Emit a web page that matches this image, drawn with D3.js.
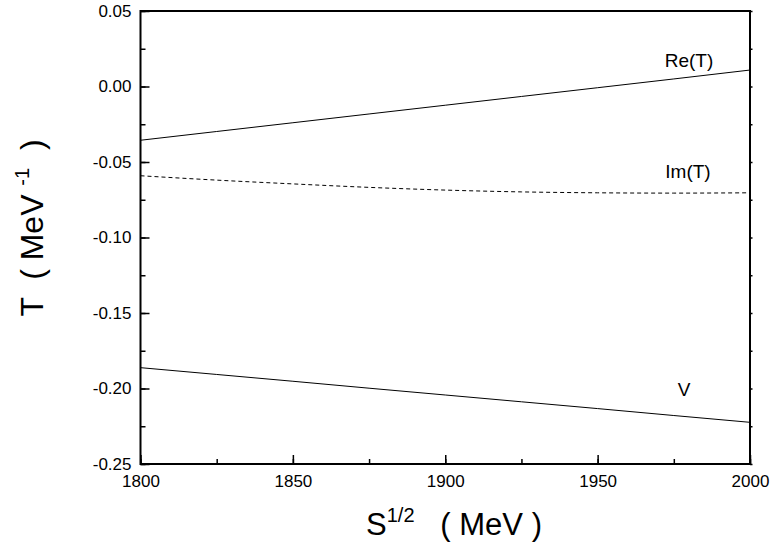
<!DOCTYPE html>
<html>
<head>
<meta charset="utf-8">
<script src="https://cdn.jsdelivr.net/npm/d3@7"></script>
<style>
  body { margin: 0; background: #fff; }
  text { font-family: "Liberation Sans", Arial, sans-serif; fill: #000; }
</style>
</head>
<body>
<div id="chart"></div>
<script>
// values
var sqrtS = [1800, 1825, 1850, 1875, 1900, 1925, 1950, 1975, 2000];
var reT = [-0.0356, -0.0298, -0.0240, -0.0182, -0.0124, -0.0066, -0.0008, 0.0050, 0.0109];
var imT = [-0.0591, -0.0620, -0.0645, -0.0668, -0.0686, -0.0698, -0.0704, -0.0706, -0.0704];
var vT = [-0.1862, -0.1907, -0.1952, -0.1998, -0.2043, -0.2088, -0.2133, -0.2179, -0.2224];
var xTicks = [1800, 1850, 1900, 1950, 2000];
var yTicks = [0.05, 0.00, -0.05, -0.10, -0.15, -0.20, -0.25];

var W = 770, H = 544;
var m = {left: 140.5, right: 20, top: 11, bottom: 80};

var svg = d3.select('#chart').append('svg')
  .attr('width', W)
  .attr('height', H);

var x = d3.scaleLinear().domain([1800, 2000]).range([m.left, W - m.right]);
var y = d3.scaleLinear().domain([-0.25, 0.05]).range([H - m.bottom, m.top]);

var line = d3.line()
  .x(function(d, i){ return x(sqrtS[i]); })
  .y(function(d){ return y(d); });

var lineCurve = d3.line()
  .x(function(d, i){ return x(sqrtS[i]); })
  .y(function(d){ return y(d); })
  .curve(d3.curveMonotoneX);

// series
svg.append('path').datum(reT)
  .attr('d', line)
  .attr('fill', 'none').attr('stroke', '#000').attr('stroke-width', 1);

svg.append('path').datum(imT)
  .attr('d', lineCurve)
  .attr('fill', 'none').attr('stroke', '#000').attr('stroke-width', 1)
  .attr('stroke-dasharray', '4,3');

svg.append('path').datum(vT)
  .attr('d', line)
  .attr('fill', 'none').attr('stroke', '#000').attr('stroke-width', 1);

// axes: major + minor ticks pointing inward
var xMinor = d3.range(1800, 2001, 25);
var yMinor = d3.range(-0.25, 0.0501, 0.025);
var fmtY = function(d){ return d3.format('.2f')(d).replace('\u2212', '-'); };

var xAxis = svg.append('g').attr('transform', 'translate(0,' + y(-0.25) + ')');
xAxis.call(d3.axisBottom(x).tickValues(xMinor).tickSize(-5).tickFormat(''));
xAxis.call(function(g){ g.select('.domain').remove(); });
var xMaj = svg.append('g').attr('transform', 'translate(0,' + y(-0.25) + ')')
  .call(d3.axisBottom(x).tickValues(xTicks).tickSize(-9).tickPadding(11).tickFormat(d3.format('d')));
xMaj.select('.domain').remove();
xMaj.selectAll('text').attr('font-size', 17).attr('font-family', '"Liberation Sans", Arial, sans-serif');

var yAxis = svg.append('g').attr('transform', 'translate(' + x(1800) + ',0)');
yAxis.call(d3.axisLeft(y).tickValues(yMinor).tickSize(-5).tickFormat(''));
yAxis.select('.domain').remove();
var yMaj = svg.append('g').attr('transform', 'translate(' + x(1800) + ',0)')
  .call(d3.axisLeft(y).tickValues(yTicks).tickSize(-9).tickPadding(9).tickFormat(fmtY));
yMaj.select('.domain').remove();
yMaj.selectAll('text').attr('font-size', 17).attr('font-family', '"Liberation Sans", Arial, sans-serif');

// small nubs on the right axis
svg.append('g').attr('transform', 'translate(' + x(2000) + ',0)')
  .call(d3.axisRight(y).tickValues(yMinor).tickSize(2.5).tickFormat(''))
  .select('.domain').remove();

svg.selectAll('.tick line').attr('stroke', '#000').attr('stroke-width', 1.5);

// frame
svg.append('rect')
  .attr('x', x(1800)).attr('y', y(0.05))
  .attr('width', x(2000) - x(1800)).attr('height', y(-0.25) - y(0.05))
  .attr('fill', 'none').attr('stroke', '#000').attr('stroke-width', 2);

// series labels
svg.append('text').attr('x', 689).attr('y', 67).attr('text-anchor', 'middle')
  .attr('font-size', 19).text('Re(T)');
svg.append('text').attr('x', 688).attr('y', 178).attr('text-anchor', 'middle')
  .attr('font-size', 19).text('Im(T)');
svg.append('text').attr('x', 684).attr('y', 396).attr('text-anchor', 'middle')
  .attr('font-size', 19).text('V');

// axis titles
var xt = svg.append('text').attr('x', 454).attr('y', 535).attr('text-anchor', 'middle')
  .attr('font-size', 31).attr('xml:space', 'preserve');
xt.append('tspan').text('S');
xt.append('tspan').attr('font-size', 20).attr('dy', -13).text('1/2');
xt.append('tspan').attr('dy', 13).text('   ( MeV )');

var yt = svg.append('text')
  .attr('transform', 'translate(43,228) rotate(-90)')
  .attr('text-anchor', 'middle')
  .attr('font-size', 32).attr('xml:space', 'preserve');
yt.append('tspan').text('T  ( MeV ');
yt.append('tspan').attr('font-size', 20).attr('dy', -14).text('-1');
yt.append('tspan').attr('dy', 14).text('  )');
</script>
</body>
</html>
